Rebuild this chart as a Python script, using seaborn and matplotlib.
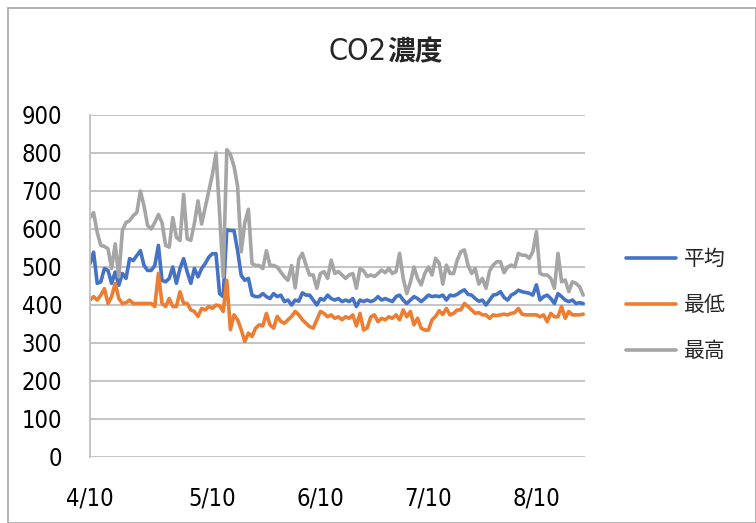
import numpy as np
import pandas as pd
import matplotlib
matplotlib.use("Agg")
import matplotlib.pyplot as plt
import seaborn as sns
from matplotlib import font_manager
from matplotlib.font_manager import FontProperties
from matplotlib.lines import Line2D

# ---------------- data ----------------
title_main = "CO2"
title_cjk = "濃度"
series_names = ["平均", "最低", "最高"]
tick_labels = ["4/10", "5/10", "6/10", "7/10", "8/10"]
tick_index = [0, 34, 64, 94, 124]

avg_vals = [
    509, 539, 457, 461, 496, 491, 457, 487, 452, 483, 470, 522, 517, 530, 543, 504, 491, 491, 504, 557,
    465, 461, 470, 500, 457, 496, 522, 487, 457, 496, 474, 496, 509, 526, 535, 535, 430, 422, 598,
    596, 596, 543, 478, 465, 470, 426, 422, 422, 430, 422, 417, 430, 422, 426, 409, 413, 400, 413, 410,
    432, 426, 426, 413, 400, 417, 413, 426, 417, 413, 417, 409, 413, 409, 417, 396, 413, 409, 413,
    409, 413, 422, 413, 417, 413, 409, 422, 426, 413, 404, 413, 422, 417, 409, 417, 426, 422, 424, 422,
    426, 413, 426, 424, 428, 435, 440, 428, 426, 417, 410, 413, 400, 413, 426, 428, 435, 420, 413,
    426, 431, 439, 435, 433, 431, 426, 453, 413, 422, 426, 417, 404, 430, 422, 413, 409, 413, 404, 406, 404,
]
min_vals = [
    413, 422, 413, 426, 443, 404, 422, 457, 417, 404, 406, 413, 404, 404, 404, 404, 404, 404, 396, 483,
    404, 396, 417, 396, 396, 435, 404, 404, 387, 383, 370, 391, 387, 396, 391, 400, 398, 383, 465,
    335, 374, 361, 335, 304, 326, 317, 339, 348, 345, 378, 348, 339, 370, 357, 352, 361, 370, 383, 374,
    361, 352, 343, 339, 361, 383, 378, 369, 374, 365, 369, 361, 369, 365, 374, 345, 378, 334, 340,
    369, 374, 356, 365, 361, 369, 365, 374, 361, 387, 369, 383, 348, 365, 339, 334, 334, 361, 370, 385,
    375, 391, 374, 378, 387, 387, 404, 396, 387, 378, 380, 374, 374, 365, 374, 372, 374, 376, 374,
    378, 380, 391, 376, 374, 374, 374, 374, 369, 374, 356, 378, 369, 369, 396, 365, 383, 374, 374, 374, 376,
]
max_vals = [
    630, 643, 591, 557, 554, 548, 496, 561, 474, 596, 617, 622, 635, 643, 700, 661, 609, 600, 617, 638,
    617, 557, 552, 630, 578, 570, 691, 574, 570, 615, 674, 613, 657, 700, 743, 800, 640, 474, 809,
    796, 765, 713, 540, 617, 652, 509, 504, 504, 496, 543, 504, 504, 500, 487, 474, 465, 504, 445, 520,
    536, 505, 479, 479, 444, 483, 488, 470, 518, 483, 488, 479, 470, 479, 483, 444, 496, 490, 475,
    479, 475, 483, 492, 485, 496, 483, 488, 536, 470, 430, 460, 500, 470, 453, 483, 500, 479, 523, 510,
    455, 505, 483, 483, 518, 540, 545, 505, 483, 496, 455, 470, 444, 490, 505, 514, 514, 485, 500,
    505, 500, 536, 531, 531, 523, 540, 593, 483, 479, 479, 470, 444, 536, 461, 466, 435, 461, 457, 448, 426,
]
y_ticks = [0, 100, 200, 300, 400, 500, 600, 700, 800, 900]

colors = ["#4472C4", "#ED7D31", "#A5A5A5"]

# ---------------- style ----------------
sns.set_theme(style="white")
cjk = "Noto Sans CJK JP"
plt.rcParams["font.family"] = [cjk, "DejaVu Sans"]


def find_narrow():
    best = None
    for f in font_manager.fontManager.ttflist:
        key = (f.name + " " + f.fname).lower()
        if ("narrow" in key or "condensed" in key) and "bold" not in key \
                and "italic" not in key and "oblique" not in key and "mono" not in key \
                and "serif" not in f.name.lower():
            if best is None or "liberation" in key:
                best = f.fname
    return best


narrow_path = find_narrow()


def num_fp(size):
    if narrow_path:
        return FontProperties(fname=narrow_path, size=size)
    return FontProperties(family="DejaVu Sans", size=size)


n = len(avg_vals)
idx = np.arange(n)
df = pd.DataFrame({
    "idx": np.concatenate([idx, idx, idx]),
    "value": avg_vals + min_vals + max_vals,
    "series": [series_names[0]] * n + [series_names[1]] * n + [series_names[2]] * n,
})

fig = plt.figure(figsize=(7.56, 5.23), dpi=100)
W, H = 756, 523
ax = fig.add_axes([90 / W, 1 - 457 / H, (585 - 90) / W, (457 - 115) / H])

sns.lineplot(data=df, x="idx", y="value", hue="series", hue_order=series_names,
             palette=colors, linewidth=2.6, ax=ax, legend=False)

ax.set_xlim(0, (585 - 90) / 3.6)
ax.set_ylim(0, 900)
ax.set_yticks(y_ticks)
ax.set_yticklabels([str(v) for v in y_ticks], fontproperties=num_fp(17), color="#000000")
ax.set_xticks(tick_index)
ax.set_xticklabels(tick_labels, fontproperties=num_fp(17), color="#000000")
ax.tick_params(axis="y", length=0, pad=20)
ax.tick_params(axis="x", length=0, pad=21)
ax.set_xlabel("")
ax.set_ylabel("")
ax.grid(axis="y", color="#BFBFBF", linewidth=1.3)
ax.set_axisbelow(True)
for s in ["top", "right", "bottom"]:
    ax.spines[s].set_visible(False)
ax.spines["left"].set_color("#BFBFBF")
ax.spines["left"].set_linewidth(1.3)

# outer frame
frame = plt.Rectangle((8 / W, 0), 1 - 8 / W, 1 - 8 / H, transform=fig.transFigure,
                      fill=False, edgecolor="#A6A6A6", linewidth=1.2)
fig.add_artist(frame)

# title: "CO2" regular + "濃度" bold
fig.canvas.draw()
r = fig.canvas.get_renderer()
t1 = fig.text(0, 1 - 52 / H, title_main, va="center", ha="left",
              fontproperties=num_fp(22))
t2 = fig.text(0, 1 - 52 / H, title_cjk, fontsize=20, va="center", ha="left",
              family=[cjk], fontweight="bold")
w1 = t1.get_window_extent(r).width
w2 = t2.get_window_extent(r).width
cx = 385
x0 = cx - (w1 + w2) / 2
t1.set_x(x0 / W)
t2.set_x((x0 + w1 + 1) / W)

# legend
leg_handles = [Line2D([0], [0], color=c, linewidth=2.6) for c in colors]
fig.legend(leg_handles, series_names, loc="center left",
           bbox_to_anchor=(607 / W, 1 - 305 / H), frameon=False,
           prop={"family": cjk, "size": 15}, handlelength=2.4, handletextpad=0.4,
           labelspacing=1.15)

fig.savefig("out.png", dpi=100)
